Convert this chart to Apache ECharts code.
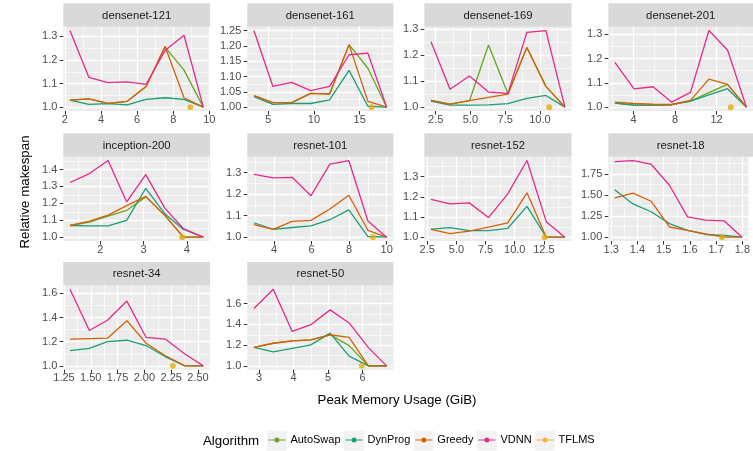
<!DOCTYPE html>
<html><head><meta charset="utf-8">
<script src="https://cdn.jsdelivr.net/npm/echarts@6/dist/echarts.min.js"></script>
<style>html,body{margin:0;padding:0;background:#fff}#c{width:753px;height:451px}</style>
</head><body><div id="c"></div>
<script>
// ---------- data ----------
const algorithms = ['AutoSwap', 'DynProg', 'Greedy', 'VDNN', 'TFLMS'];
const algoColors = ['#66A61E', '#1B9E77', '#D95F02', '#E7298A', '#E6AB02'];

// densenet-121
const d121X = [2.28, 3.33, 4.38, 5.45, 6.5, 7.55, 8.6, 9.67];
const d121AutoSwap = [1.03, 1.035, 1.016, 1.025, 1.088, 1.255, 1.157, 1.0];
const d121DynProg = [1.03, 1.012, 1.015, 1.01, 1.033, 1.04, 1.033, 1.0];
const d121Greedy = [1.03, 1.035, 1.016, 1.025, 1.088, 1.258, 1.04, 1.0];
const d121VDNN = [1.325, 1.126, 1.104, 1.107, 1.097, 1.24, 1.305, 1.0];
const d121TFLMS = [8.95, 1.0];
const d121XTicks = ['2', '4', '6', '8', '10'];
const d121YTicks = ['1.0', '1.1', '1.2', '1.3'];

// densenet-161
const d161X = [3.44, 5.5, 7.57, 9.64, 11.71, 13.84, 15.9, 17.95];
const d161AutoSwap = [1.038, 1.015, 1.015, 1.045, 1.043, 1.204, 1.127, 1.0];
const d161DynProg = [1.034, 1.009, 1.012, 1.012, 1.024, 1.12, 1.003, 1.0];
const d161Greedy = [1.038, 1.015, 1.015, 1.045, 1.043, 1.204, 1.019, 1.0];
const d161VDNN = [1.25, 1.068, 1.081, 1.054, 1.068, 1.171, 1.176, 1.0];
const d161TFLMS = [16.3, 1.0];
const d161XTicks = ['5', '10', '15'];
const d161YTicks = ['1.00', '1.05', '1.10', '1.15', '1.20', '1.25'];

// densenet-169
const d169X = [2.16, 3.53, 4.93, 6.3, 7.7, 9.06, 10.43, 11.8];
const d169AutoSwap = [1.026, 1.012, 1.025, 1.239, 1.052, 1.23, 1.08, 1.0];
const d169DynProg = [1.023, 1.008, 1.008, 1.009, 1.014, 1.034, 1.045, 1.0];
const d169Greedy = [1.026, 1.012, 1.025, 1.038, 1.05, 1.23, 1.08, 1.0];
const d169VDNN = [1.252, 1.069, 1.12, 1.058, 1.053, 1.288, 1.295, 1.0];
const d169TFLMS = [10.67, 1.0];
const d169XTicks = ['2.5', '5.0', '7.5', '10.0'];
const d169YTicks = ['1.0', '1.1', '1.2', '1.3'];

// densenet-201
const d201X = [2.21, 4.06, 5.88, 7.67, 9.49, 11.27, 13.06, 14.88];
const d201AutoSwap = [1.017, 1.008, 1.008, 1.01, 1.025, 1.06, 1.094, 1.0];
const d201DynProg = [1.017, 1.008, 1.008, 1.01, 1.025, 1.051, 1.076, 1.0];
const d201Greedy = [1.021, 1.015, 1.012, 1.011, 1.028, 1.115, 1.094, 1.0];
const d201VDNN = [1.184, 1.075, 1.084, 1.021, 1.061, 1.315, 1.235, 1.0];
const d201TFLMS = [13.37, 1.0];
const d201XTicks = ['4', '8', '12'];
const d201YTicks = ['1.0', '1.1', '1.2', '1.3'];

// inception-200
const i200X = [1.3, 1.75, 2.18, 2.61, 3.05, 3.49, 3.92, 4.38];
const i200AutoSwap = [1.069, 1.089, 1.125, 1.158, 1.238, 1.129, 1.0, 1.0];
const i200DynProg = [1.069, 1.067, 1.067, 1.099, 1.289, 1.139, 1.046, 1.0];
const i200Greedy = [1.069, 1.095, 1.13, 1.186, 1.241, 1.129, 1.0, 1.0];
const i200VDNN = [1.323, 1.376, 1.453, 1.208, 1.37, 1.172, 1.05, 1.0];
const i200TFLMS = [3.89, 1.0];
const i200XTicks = ['2', '3', '4'];
const i200YTicks = ['1.0', '1.1', '1.2', '1.3', '1.4'];

// resnet-101
const r101X = [2.92, 3.95, 4.96, 5.96, 6.97, 7.98, 9.0, 10.0];
const r101DynProg = [1.067, 1.036, 1.045, 1.052, 1.081, 1.127, 1.003, 1.0];
const r101Greedy = [1.058, 1.036, 1.073, 1.078, 1.131, 1.195, 1.032, 1.0];
const r101VDNN = [1.292, 1.275, 1.278, 1.192, 1.339, 1.356, 1.075, 1.0];
const r101TFLMS = [9.27, 1.0];
const r101XTicks = ['4', '6', '8', '10'];
const r101YTicks = ['1.0', '1.1', '1.2', '1.3'];

// resnet-152
const r152X = [2.82, 4.45, 6.1, 7.75, 9.4, 11.05, 12.7, 14.3];
const r152DynProg = [1.04, 1.047, 1.032, 1.032, 1.044, 1.153, 1.0, 1.0];
const r152Greedy = [1.039, 1.018, 1.03, 1.05, 1.071, 1.22, 1.0, 1.0];
const r152VDNN = [1.187, 1.165, 1.17, 1.097, 1.215, 1.38, 1.077, 1.0];
const r152TFLMS = [12.56, 1.0];
const r152XTicks = ['2.5', '5.0', '7.5', '10.0', '12.5'];
const r152YTicks = ['1.0', '1.1', '1.2', '1.3', '1.4'];

// resnet-18
const r18X = [1.313, 1.383, 1.452, 1.522, 1.591, 1.66, 1.73, 1.799];
const r18DynProg = [1.565, 1.395, 1.302, 1.161, 1.081, 1.032, 1.02, 1.0];
const r18Greedy = [1.468, 1.524, 1.427, 1.121, 1.081, 1.04, 1.0, 1.0];
const r18VDNN = [1.899, 1.911, 1.867, 1.617, 1.242, 1.202, 1.194, 1.0];
const r18TFLMS = [1.722, 1.0];
const r18XTicks = ['1.3', '1.4', '1.5', '1.6', '1.7', '1.8'];
const r18YTicks = ['1.00', '1.25', '1.50', '1.75'];

// resnet-34
const r34X = [1.306, 1.487, 1.656, 1.837, 2.016, 2.197, 2.378, 2.55];
const r34DynProg = [1.126, 1.145, 1.201, 1.212, 1.168, 1.075, 1.0, 1.0];
const r34Greedy = [1.221, 1.226, 1.229, 1.374, 1.187, 1.084, 1.0, 1.0];
const r34VDNN = [1.634, 1.293, 1.377, 1.536, 1.235, 1.221, 1.098, 1.0];
const r34TFLMS = [2.266, 1.0];
const r34XTicks = ['1.25', '1.50', '1.75', '2.00', '2.25', '2.50'];
const r34YTicks = ['1.0', '1.2', '1.4', '1.6'];

// resnet-50
const r50X = [2.85, 3.41, 3.96, 4.5, 5.06, 5.61, 6.17, 6.7];
const r50AutoSwap = [1.179, 1.218, 1.241, 1.251, 1.3, 1.195, 1.0, 1.0];
const r50DynProg = [1.179, 1.134, 1.169, 1.202, 1.316, 1.094, 1.0, 1.0];
const r50Greedy = [1.179, 1.218, 1.241, 1.251, 1.3, 1.274, 1.0, 1.0];
const r50VDNN = [1.554, 1.739, 1.332, 1.397, 1.54, 1.414, 1.176, 1.0];
const r50TFLMS = [5.98, 1.0];
const r50XTicks = ['3', '4', '5', '6'];
const r50YTicks = ['1.0', '1.2', '1.4', '1.6'];

const panels = [
  {name: 'densenet-121', x: d121X, s: {AutoSwap: d121AutoSwap, DynProg: d121DynProg, Greedy: d121Greedy, VDNN: d121VDNN}, t: d121TFLMS, xt: d121XTicks, yt: d121YTicks},
  {name: 'densenet-161', x: d161X, s: {AutoSwap: d161AutoSwap, DynProg: d161DynProg, Greedy: d161Greedy, VDNN: d161VDNN}, t: d161TFLMS, xt: d161XTicks, yt: d161YTicks},
  {name: 'densenet-169', x: d169X, s: {AutoSwap: d169AutoSwap, DynProg: d169DynProg, Greedy: d169Greedy, VDNN: d169VDNN}, t: d169TFLMS, xt: d169XTicks, yt: d169YTicks},
  {name: 'densenet-201', x: d201X, s: {AutoSwap: d201AutoSwap, DynProg: d201DynProg, Greedy: d201Greedy, VDNN: d201VDNN}, t: d201TFLMS, xt: d201XTicks, yt: d201YTicks},
  {name: 'inception-200', x: i200X, s: {AutoSwap: i200AutoSwap, DynProg: i200DynProg, Greedy: i200Greedy, VDNN: i200VDNN}, t: i200TFLMS, xt: i200XTicks, yt: i200YTicks},
  {name: 'resnet-101', x: r101X, s: {DynProg: r101DynProg, Greedy: r101Greedy, VDNN: r101VDNN}, t: r101TFLMS, xt: r101XTicks, yt: r101YTicks},
  {name: 'resnet-152', x: r152X, s: {DynProg: r152DynProg, Greedy: r152Greedy, VDNN: r152VDNN}, t: r152TFLMS, xt: r152XTicks, yt: r152YTicks},
  {name: 'resnet-18', x: r18X, s: {DynProg: r18DynProg, Greedy: r18Greedy, VDNN: r18VDNN}, t: r18TFLMS, xt: r18XTicks, yt: r18YTicks},
  {name: 'resnet-34', x: r34X, s: {DynProg: r34DynProg, Greedy: r34Greedy, VDNN: r34VDNN}, t: r34TFLMS, xt: r34XTicks, yt: r34YTicks},
  {name: 'resnet-50', x: r50X, s: {AutoSwap: r50AutoSwap, DynProg: r50DynProg, Greedy: r50Greedy, VDNN: r50VDNN}, t: r50TFLMS, xt: r50XTicks, yt: r50YTicks}
];

// ---------- layout ----------
const FONT = '"Liberation Sans", Arial, Helvetica, sans-serif';
const colLeft = [63.3, 247.3, 424.3, 608.3];
const colWidth = [146.7, 146, 147.3, 144.7];
const rowTop = [3.3, 133.3, 262];
const stripH = 23.4, plotH = 84.3;

function expand(vals) {
  const lo = Math.min(...vals), hi = Math.max(...vals);
  const d = (hi - lo) * 0.05;
  return [lo - d, hi + d];
}
function minorsOf(labels, lo, hi) {
  const t = labels.map(Number);
  const step = t[1] - t[0];
  const out = [];
  for (let k = -1; k < t.length; k++) {
    const m = k < 0 ? t[0] - step / 2 : t[k] + step / 2;
    if (m > lo && m < hi) out.push(m);
  }
  return out;
}
function fmt(labels) {
  return function (v) {
    let best = labels[0], bd = Infinity;
    labels.forEach(s => { const d = Math.abs(Number(s) - v); if (d < bd) { bd = d; best = s; } });
    return best;
  };
}

const grids = [], xAxes = [], yAxes = [], series = [], graphics = [];
panels.forEach((p, i) => {
  const col = i % 4, row = Math.floor(i / 4);
  const left = colLeft[col], w = colWidth[col], top = rowTop[row];
  grids.push({left: left, top: top + stripH, width: w, height: plotH, show: true,
    backgroundColor: '#EBEBEB', borderWidth: 0});
  graphics.push({type: 'rect', silent: true, z: 0, shape: {x: left, y: top, width: w, height: stripH},
    style: {fill: '#D9D9D9'}});
  graphics.push({type: 'text', silent: true, z: 1, x: left + w / 2, y: top + stripH / 2 + 0.5,
    style: {text: p.name, textAlign: 'center', textVerticalAlign: 'middle', fontSize: 11.3,
      fontFamily: FONT, fill: '#1A1A1A'}});

  const allX = p.x.concat([p.t[0]]);
  let allY = [p.t[1]];
  Object.keys(p.s).forEach(k => { allY = allY.concat(p.s[k]); });
  const [xmin, xmax] = expand(allX);
  const [ymin, ymax] = expand(allY);
  const xt = p.xt.map(Number), yt = p.yt.map(Number);

  xAxes.push({type: 'value', gridIndex: i, min: xmin, max: xmax, position: 'bottom',
    axisLine: {show: false},
    axisTick: {show: true, customValues: xt, length: 3.6, lineStyle: {color: '#333333', width: 1}},
    axisLabel: {customValues: xt, formatter: fmt(p.xt), color: '#4D4D4D', fontSize: 11, margin: 3, fontFamily: FONT},
    splitLine: {show: true, lineStyle: {color: '#FFFFFF', width: 1.3}}});
  xAxes.push({type: 'value', gridIndex: i, min: xmin, max: xmax, position: 'top',
    axisLine: {show: false}, axisTick: {show: false, customValues: minorsOf(p.xt, xmin, xmax)},
    axisLabel: {show: false}, splitLine: {show: true, lineStyle: {color: '#FFFFFF', width: 0.6}}});
  yAxes.push({type: 'value', gridIndex: i, min: ymin, max: ymax, position: 'left',
    axisLine: {show: false},
    axisTick: {show: true, customValues: yt, length: 3.6, lineStyle: {color: '#333333', width: 1}},
    axisLabel: {customValues: yt, formatter: fmt(p.yt), color: '#4D4D4D', fontSize: 11, margin: 6, fontFamily: FONT},
    splitLine: {show: true, lineStyle: {color: '#FFFFFF', width: 1.3}}});
  yAxes.push({type: 'value', gridIndex: i, min: ymin, max: ymax, position: 'right',
    axisLine: {show: false}, axisTick: {show: false, customValues: minorsOf(p.yt, ymin, ymax)},
    axisLabel: {show: false}, splitLine: {show: true, lineStyle: {color: '#FFFFFF', width: 0.6}}});

  algorithms.forEach((a, k) => {
    if (a === 'TFLMS') {
      series.push({name: a, type: 'scatter', xAxisIndex: 2 * i, yAxisIndex: 2 * i, z: 10,
        data: [p.t], symbol: 'circle', symbolSize: 5.8, itemStyle: {color: algoColors[k]}, silent: true});
    } else if (p.s[a]) {
      series.push({name: a, type: 'line', xAxisIndex: 2 * i, yAxisIndex: 2 * i, z: 3 + k,
        data: p.x.map((xv, j) => [xv, p.s[a][j]]), showSymbol: false, symbol: 'circle',
        lineStyle: {color: algoColors[k], width: 1.3}, itemStyle: {color: algoColors[k]}, silent: true});
    }
  });
});

// axis titles
graphics.push({type: 'text', silent: true, x: 397, y: 400,
  style: {text: 'Peak Memory Usage (GiB)', textAlign: 'center', textVerticalAlign: 'middle',
    fontSize: 13.3, fontFamily: FONT, fill: '#000000'}});
graphics.push({type: 'text', silent: true, x: 25, y: 192, rotation: Math.PI / 2,
  style: {text: 'Relative makespan', textAlign: 'center', textVerticalAlign: 'middle',
    fontSize: 13.3, fontFamily: FONT, fill: '#000000'}});
graphics.push({type: 'text', silent: true, x: 203, y: 441.5,
  style: {text: 'Algorithm', textAlign: 'left', textVerticalAlign: 'middle',
    fontSize: 13.3, fontFamily: FONT, fill: '#000000'}});

// legend key backgrounds, aligned to the legend's own layout
const legendLeft = 268.4, iconW = 17, iconH = 5, legendGap = 5;
const ctx = document.createElement('canvas').getContext('2d');
ctx.font = '11px ' + FONT;
let kx = legendLeft;
algorithms.forEach(a => {
  graphics.push({type: 'rect', silent: true, z: -1, shape: {x: kx - 1.6, y: 430.7, width: 20, height: 20},
    style: {fill: '#F2F2F2'}});
  kx += iconW + 5 + ctx.measureText(a).width + legendGap;
});

const keyIcon = 'path://M0,2 L6,2 L6,3 L0,3 Z M11,2 L17,2 L17,3 L11,3 Z M6,2.5 A2.5,2.5 0 1 1 11,2.5 A2.5,2.5 0 1 1 6,2.5 Z';

const chart = echarts.init(document.getElementById('c'), null, {renderer: 'canvas'});
chart.setOption({
  animation: false,
  backgroundColor: '#FFFFFF',
  grid: grids,
  xAxis: xAxes,
  yAxis: yAxes,
  series: series,
  legend: {left: legendLeft, top: 434.5, padding: 0, orient: 'horizontal', itemWidth: iconW, itemHeight: iconH,
    itemGap: legendGap, icon: keyIcon, itemStyle: {borderWidth: 0}, selectedMode: false,
    textStyle: {fontSize: 11, color: '#000000', fontFamily: FONT}, data: algorithms},
  graphic: {elements: graphics}
});
</script>
</body></html>
